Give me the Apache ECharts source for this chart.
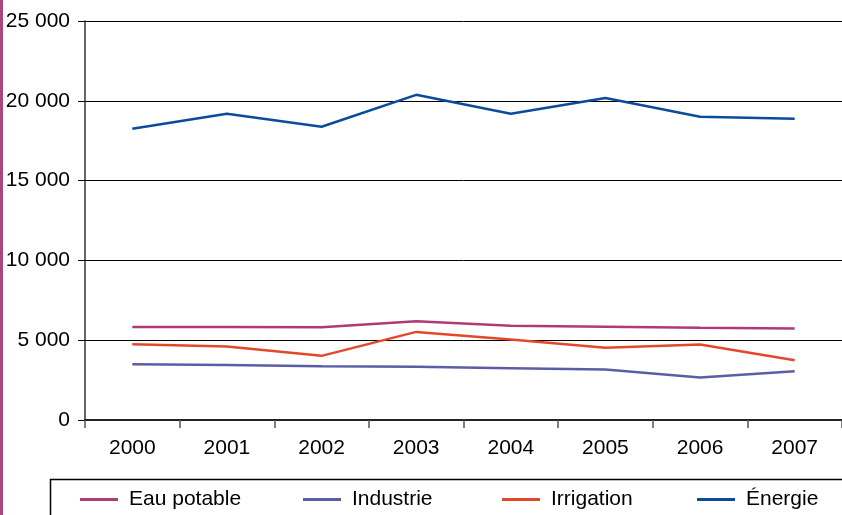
<!DOCTYPE html>
<html>
<head>
<meta charset="utf-8">
<script src="https://cdn.jsdelivr.net/npm/echarts@6/dist/echarts.min.js"></script>
<style>html,body{margin:0;padding:0;background:#fff}#c{width:842px;height:515px}</style>
</head>
<body>
<div id="c"></div>
<script>
var years = ['2000','2001','2002','2003','2004','2005','2006','2007'];
var eauPotable = [5830, 5830, 5810, 6190, 5900, 5850, 5780, 5730];
var industrie  = [3500, 3440, 3375, 3330, 3250, 3170, 2670, 3060];
var irrigation = [4750, 4600, 4020, 5520, 5040, 4530, 4730, 3750];
var energie    = [18250, 19190, 18375, 20375, 19190, 20170, 19000, 18875];
var seriesNames = ['Eau potable', 'Industrie', 'Irrigation', 'Énergie'];
var colors = ['#b13a72', '#5b5ea6', '#e2482a', '#0b4b9c'];
var FONT = '"Liberation Sans", Arial, sans-serif';
var FS = 21;

var chart = echarts.init(document.getElementById('c'));
var legendLefts = [80, 303, 502, 697];
var legends = seriesNames.map(function (n, i) {
  return {
    data: [n], left: legendLefts[i], top: 489, padding: 0,
    itemWidth: 38, itemHeight: 3, icon: 'rect',
    textStyle: {fontSize: FS, color: '#000', fontFamily: FONT, padding: [0, 0, 0, 6]},
    selectedMode: false
  };
});
chart.setOption({
  animation: false,
  color: colors,
  grid: {left: 85, top: 21, right: -5, bottom: 95},
  legend: legends,
  graphic: [
    {type: 'rect', shape: {x: 0, y: 0, width: 3, height: 515}, style: {fill: '#b0447c'}},
    {type: 'rect', shape: {x: 50.5, y: 479.5, width: 820, height: 60}, style: {fill: 'none', stroke: '#000', lineWidth: 1.5}}
  ],
  xAxis: {
    type: 'category', data: years, boundaryGap: true,
    axisLine: {lineStyle: {color: '#222', width: 2}},
    axisTick: {show: true, length: 8, lineStyle: {color: '#555', width: 1.5}},
    axisLabel: {fontSize: FS, color: '#000', fontFamily: FONT, margin: 18}
  },
  yAxis: {
    type: 'value', min: 0, max: 25000, interval: 5000,
    axisLine: {show: true, lineStyle: {color: '#333', width: 1.5}},
    axisTick: {show: true, length: 7, lineStyle: {color: '#000', width: 1}},
    axisLabel: {fontSize: FS, color: '#000', fontFamily: FONT, margin: 15,
      formatter: function (v) { return String(v).replace(/\B(?=(\d{3})+(?!\d))/g, ' '); }},
    splitLine: {lineStyle: {color: '#000', width: 1}}
  },
  series: seriesNames.map(function (n, i) {
    return {
      name: n, type: 'line', showSymbol: false, symbol: 'none',
      data: [eauPotable, industrie, irrigation, energie][i],
      lineStyle: {width: 2.5, color: colors[i]}
    };
  })
});
</script>
</body>
</html>
